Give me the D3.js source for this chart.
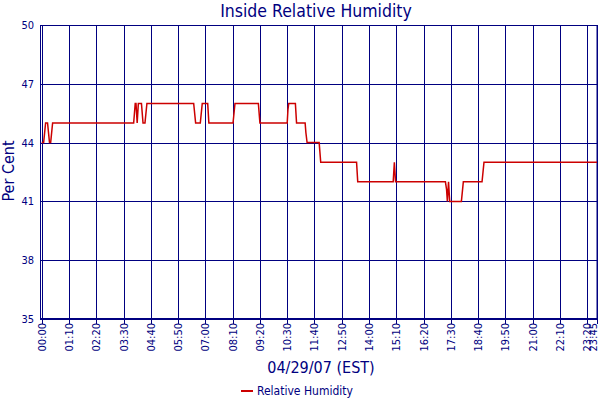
<!DOCTYPE html>
<html>
<head>
<meta charset="utf-8">
<script src="https://cdn.jsdelivr.net/npm/d3@7"></script>
<style>
  body { margin: 0; background: #fff; }
  svg text { font-family: Tahoma, "DejaVu Sans Condensed", "Liberation Sans", sans-serif; fill: #000080; }
</style>
</head>
<body>
<div id="chart"></div>
<script>
// readings (time of sample, value in %)
const times = [
    "00:00", "00:05", "00:10", "00:15", "00:20", "00:23", "00:28",
    "03:56", "04:00", "04:02", "04:05", "04:08", "04:16", "04:20", "04:25", "04:30",
    "06:30", "06:35", "06:47", "06:52", "07:06", "07:09",
    "08:11", "08:14", "08:16", "09:16", "09:20",
    "10:30", "10:32", "10:34", "10:51", "10:54", "11:16", "11:18", "11:21",
    "11:52", "11:56", "13:28", "13:31",
    "15:02", "15:05", "15:08",
    "17:16", "17:19", "17:21", "17:24", "17:27", "17:57", "18:00", "18:02",
    "18:50", "18:53", "18:55", "23:45"
];
const values = [
    44, 44, 45, 45, 44, 44, 45,
    45, 46, 46, 45, 46, 46, 45, 45, 46,
    46, 45, 45, 46, 46, 45,
    45, 45.6, 46, 46, 45,
    45, 45.7, 46, 46, 45, 45, 44.5, 44,
    44, 43, 43, 42,
    42, 43, 42,
    42, 41.6, 41, 42, 41, 41, 41.6, 42,
    42, 42.6, 43, 43
];

const tickLabels = ["00:00", "01:10", "02:20", "03:30", "04:40", "05:50", "07:00", "08:10",
    "09:20", "10:30", "11:40", "12:50", "14:00", "15:10", "16:20", "17:30", "18:40",
    "19:50", "21:00", "22:10", "23:20", "23:45"];
const yTicks = [35, 38, 41, 44, 47, 50];

const toMin = s => { const p = s.split(":"); return +p[0] * 60 + +p[1]; };
const data = times.map((t, i) => ({ t: toMin(t), v: values[i] }));

const W = 600, H = 400;
const navy = "#000080";

const svg = d3.select("#chart").append("svg")
    .attr("width", W).attr("height", H);

const x = d3.scaleLinear().domain([0, toMin("23:45")]).range([41.7, 597]);
const y = d3.scaleLinear().domain([35, 50]).range([319, 25]);

// frame
svg.append("rect")
    .attr("x", 40.5).attr("y", 25.5)
    .attr("width", 556.5).attr("height", 293)
    .attr("fill", "none").attr("stroke", navy);

// gridlines
svg.append("g").selectAll("line")
    .data(yTicks)
    .join("line")
    .attr("x1", 40).attr("x2", 597)
    .attr("y1", d => Math.round(y(d)) + 0.5).attr("y2", d => Math.round(y(d)) + 0.5)
    .attr("stroke", navy);

svg.append("g").selectAll("line")
    .data(tickLabels)
    .join("line")
    .attr("x1", d => Math.round(x(toMin(d))) + 0.5).attr("x2", d => Math.round(x(toMin(d))) + 0.5)
    .attr("y1", 25).attr("y2", 324)
    .attr("stroke", navy);

// y tick labels
svg.append("g").selectAll("text")
    .data(yTicks)
    .join("text")
    .attr("x", 34).attr("y", d => y(d) + 4)
    .attr("text-anchor", "end")
    .style("font-size", "11px")
    .text(d => d);

// x tick labels (rotated), last one kept inside the picture
svg.append("g").selectAll("text")
    .data(tickLabels)
    .join("text")
    .attr("transform", d => `translate(${Math.min(x(toMin(d)) + 4, 596.5)},323) rotate(-90)`)
    .attr("text-anchor", "end")
    .style("font-size", "11px")
    .text(d => d);

// line
const line = d3.line().x(d => x(d.t)).y(d => y(d.v));
svg.append("path")
    .datum(data)
    .attr("d", line)
    .attr("fill", "none")
    .attr("stroke", "#cc0000")
    .attr("stroke-width", 1.5);

// titles
svg.append("text")
    .attr("x", 316).attr("y", 17)
    .attr("text-anchor", "middle")
    .style("font-size", "17.5px")
    .text("Inside Relative Humidity");

svg.append("text")
    .attr("transform", "translate(14,171) rotate(-90)")
    .attr("text-anchor", "middle")
    .style("font-size", "16px")
    .text("Per Cent");

svg.append("text")
    .attr("x", 321).attr("y", 373)
    .attr("text-anchor", "middle")
    .style("font-size", "16px")
    .text("04/29/07 (EST)");

// legend
svg.append("line")
    .attr("x1", 241).attr("x2", 253)
    .attr("y1", 391).attr("y2", 391)
    .attr("stroke", "#cc0000").attr("stroke-width", 2);
svg.append("text")
    .attr("x", 257).attr("y", 395)
    .style("font-size", "12px")
    .text("Relative Humidity");
</script>
</body>
</html>
